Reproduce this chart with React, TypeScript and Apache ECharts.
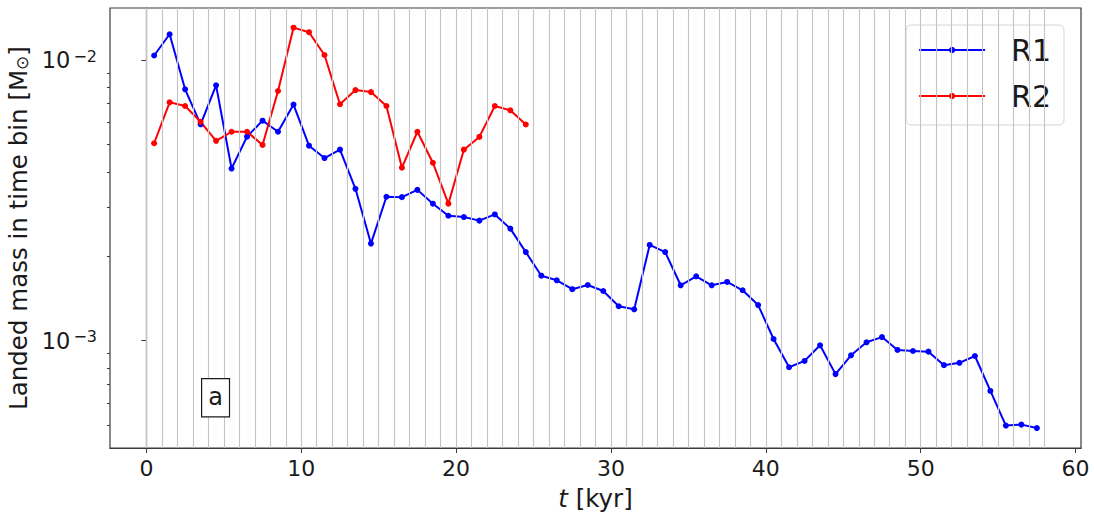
import React, { useEffect, useRef } from "react";
import * as echarts from "echarts";

// Time-bin centres [kyr]
const binCentres = [
  0.5, 1.5, 2.5, 3.5, 4.5, 5.5, 6.5, 7.5, 8.5, 9.5,
  10.5, 11.5, 12.5, 13.5, 14.5, 15.5, 16.5, 17.5, 18.5, 19.5,
  20.5, 21.5, 22.5, 23.5, 24.5, 25.5, 26.5, 27.5, 28.5, 29.5,
  30.5, 31.5, 32.5, 33.5, 34.5, 35.5, 36.5, 37.5, 38.5, 39.5,
  40.5, 41.5, 42.5, 43.5, 44.5, 45.5, 46.5, 47.5, 48.5, 49.5,
  50.5, 51.5, 52.5, 53.5, 54.5, 55.5, 56.5, 57.5,
];

// Time-bin edges [kyr]
const binEdges = [
  0, 1, 2, 3, 4, 5, 6, 7, 8, 9, 10, 11, 12, 13, 14, 15, 16, 17, 18, 19,
  20, 21, 22, 23, 24, 25, 26, 27, 28, 29, 30, 31, 32, 33, 34, 35, 36, 37, 38, 39,
  40, 41, 42, 43, 44, 45, 46, 47, 48, 49, 50, 51, 52, 53, 54, 55, 56, 57, 58,
];

// Landed mass per bin [Msun]
const r1Mass = [
  0.0104, 0.01238, 0.00788, 0.00591, 0.00814, 0.00411, 0.00534, 0.00609, 0.00556, 0.00695,
  0.00496, 0.00448, 0.0048, 0.00348, 0.00222, 0.00326, 0.00325, 0.00345, 0.00308, 0.00279,
  0.00276, 0.00268, 0.00282, 0.00251, 0.00207, 0.001705, 0.001642, 0.001526, 0.00158, 0.001504,
  0.001327, 0.001294, 0.002195, 0.00207, 0.001576, 0.001697, 0.001576, 0.00162, 0.001513, 0.00134,
  0.001014, 0.000804, 0.000847, 0.000963, 0.00076, 0.000887, 0.000987, 0.00103, 0.000927, 0.000919,
  0.000914, 0.000818, 0.000834, 0.000882, 0.000662, 0.000498, 0.000502, 0.000488,
];

const r2Mass = [
  0.00506, 0.00708, 0.00687, 0.00603, 0.00516, 0.00556, 0.00556, 0.00499, 0.00777, 0.01307,
  0.01259, 0.01044, 0.00697, 0.00783, 0.0077, 0.00687, 0.00414, 0.00556, 0.00431, 0.00308,
  0.0048, 0.00533, 0.00687, 0.00663, 0.0059,
];

const xTicks = [0, 10, 20, 30, 40, 50, 60];
const yMajorTicks = [1e-3, 1e-2];
const yMinorTicks = [
  5e-4, 6e-4, 7e-4, 8e-4, 9e-4,
  2e-3, 3e-3, 4e-3, 5e-3, 6e-3, 7e-3, 8e-3, 9e-3,
];

const X_MIN = -2.35;
const X_MAX = 60.35;
const Y_MIN = 4.143e-4;
const Y_MAX = 0.01536;

const FONT = "DejaVu Sans";
const INK = "#1a1a1a";
const FRAME = "#3a3a3a";

const lg = (v: number) => Math.log10(v);

export default function App() {
  const ref = useRef<HTMLDivElement>(null);

  useEffect(() => {
    if (!ref.current) return;
    const chart = echarts.init(ref.current, undefined, { renderer: "svg" });

    const r1Data = r1Mass.map((m, i) => [binCentres[i], lg(m)]);
    const r2Data = r2Mass.map((m, i) => [binCentres[i], lg(m)]);

    const yBase = {
      type: "value" as const,
      min: lg(Y_MIN),
      max: lg(Y_MAX),
      position: "left" as const,
      offset: 0,
      splitLine: { show: false },
    };

    chart.setOption({
      animation: false,
      backgroundColor: "#ffffff",
      grid: {
        left: 110,
        right: 13,
        top: 8,
        bottom: 67,
        containLabel: false,
        outerBoundsMode: "none",
        show: true,
        borderColor: FRAME,
        borderWidth: 1.2,
        backgroundColor: "transparent",
      },
      legend: {
        data: ["R1", "R2"],
        orient: "vertical",
        right: 30,
        top: 25,
        itemWidth: 66,
        itemHeight: 8,
        itemGap: 16,
        padding: [10, 13, 14, 12],
        borderColor: "#d4d4d4",
        borderWidth: 1,
        borderRadius: 5,
        backgroundColor: "rgba(255,255,255,0.85)",
        itemStyle: { borderWidth: 0 },
        lineStyle: { width: 2, type: "solid" },
        textStyle: {
          fontFamily: FONT,
          fontSize: 30,
          color: INK,
          padding: [0, 0, 0, 21],
        },
      },
      xAxis: {
        type: "value",
        min: X_MIN,
        max: X_MAX,
        axisLine: { show: true, lineStyle: { color: FRAME, width: 1.2 } },
        axisTick: {
          show: true,
          customValues: xTicks,
          length: 5,
          lineStyle: { color: FRAME, width: 1 },
        },
        axisLabel: {
          customValues: xTicks,
          fontFamily: FONT,
          fontSize: 22,
          color: INK,
          margin: 9,
        },
        splitLine: { show: false },
        name: "{i|t} [kyr]",
        nameLocation: "middle",
        nameGap: 38,
        nameTextStyle: {
          fontFamily: FONT,
          fontSize: 24.5,
          color: INK,
          rich: {
            i: { fontFamily: FONT, fontSize: 24.5, fontStyle: "italic", color: INK },
          },
        },
      },
      yAxis: [
        {
          ...yBase,
          axisLine: { show: true, lineStyle: { color: FRAME, width: 1.2 } },
          axisTick: {
            show: true,
            customValues: yMajorTicks.map(lg),
            length: 5,
            lineStyle: { color: FRAME, width: 1 },
          },
          axisLabel: {
            customValues: yMajorTicks.map(lg),
            margin: 13,
            formatter: (v: number) => `{b|10}{g|}{s|\u2212${Math.round(-v)}}`,
            rich: {
              b: { fontFamily: FONT, fontSize: 22.5, color: INK, lineHeight: 24 },
              g: { width: 3, height: 1 },
              s: { fontFamily: FONT, fontSize: 16, color: INK, lineHeight: 16, verticalAlign: "top" },
            },
          },
          name: "Landed mass in time bin [M{sub|\u2299}]",
          nameLocation: "middle",
          nameGap: 73,
          nameTextStyle: {
            fontFamily: FONT,
            fontSize: 24.5,
            color: INK,
            rich: {
              sub: { fontFamily: FONT, fontSize: 17, color: INK, padding: [8, 0, 0, 0] },
            },
          },
        },
        {
          ...yBase,
          axisLine: { show: false },
          axisTick: {
            show: true,
            customValues: yMinorTicks.map(lg),
            length: 3,
            lineStyle: { color: FRAME, width: 1 },
          },
          axisLabel: { show: false },
        },
      ],
      graphic: [
        {
          type: "text",
          left: 201,
          top: 378,
          z: 10,
          style: {
            text: "a",
            fontFamily: FONT,
            fontSize: 24,
            fill: INK,
            backgroundColor: "#ffffff",
            borderColor: INK,
            borderWidth: 1.2,
            padding: [6, 6, 7, 6],
          },
        },
      ],
      series: [
        {
          name: "bins",
          type: "line",
          data: [],
          z: 1,
          silent: true,
          markLine: {
            silent: true,
            symbol: ["none", "none"],
            label: { show: false },
            lineStyle: { color: "#c4c4c4", width: 1.1, type: "solid" },
            emphasis: { disabled: true },
            data: binEdges.map((x) => ({ xAxis: x })),
          },
        },
        {
          name: "R1",
          type: "line",
          data: r1Data,
          z: 3,
          symbol: "circle",
          symbolSize: 6,
          showSymbol: true,
          color: "#0000ff",
          itemStyle: { color: "#0000ff", borderWidth: 0 },
          lineStyle: { color: "#0000ff", width: 2 },
        },
        {
          name: "R2",
          type: "line",
          data: r2Data,
          z: 3,
          symbol: "circle",
          symbolSize: 6,
          showSymbol: true,
          color: "#ff0000",
          itemStyle: { color: "#ff0000", borderWidth: 0 },
          lineStyle: { color: "#ff0000", width: 2 },
        },
      ],
    });

    return () => chart.dispose();
  }, []);

  return (
    <div
      ref={ref}
      style={{ position: "absolute", left: 0, top: 0, width: 1094, height: 515 }}
    />
  );
}
